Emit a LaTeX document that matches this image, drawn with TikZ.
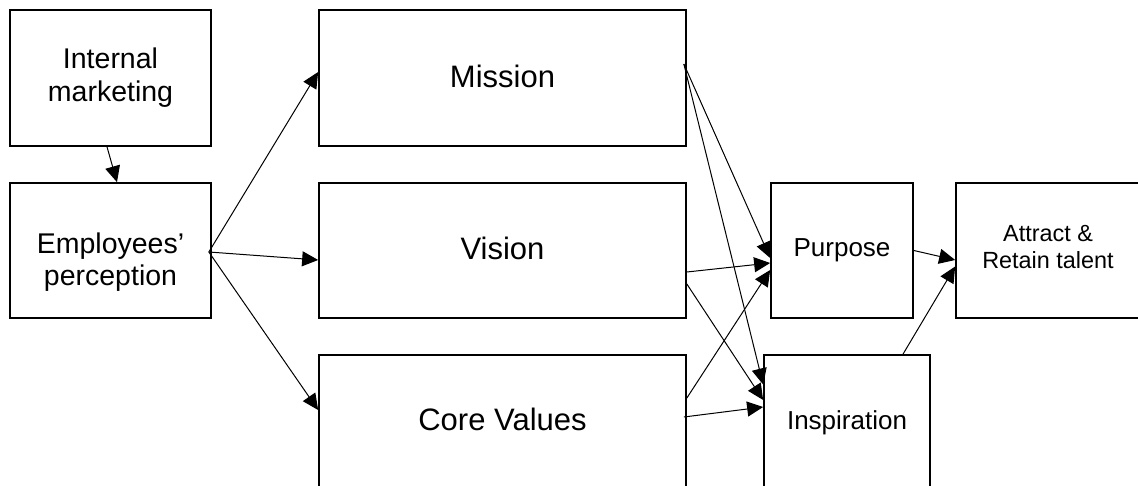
\documentclass[tikz,border=0pt]{standalone}
\usepackage{fontspec}
\setmainfont{Liberation Sans}
\usetikzlibrary{arrows.meta,calc}
\tikzset{
  box/.style={draw, line width=1.7pt, rectangle, inner sep=0pt, align=center},
  bigtxt/.style={font=\fontsize{31}{36}\selectfont},
  midtxt/.style={font=\fontsize{26}{30}\selectfont},
  conn/.style={line width=1pt, -{Triangle[length=16pt,width=15pt]}},
}
\begin{document}
\begin{tikzpicture}[x=1pt,y=-1pt]
\useasboundingbox (0,0) rectangle (1138,486);
% boxes
\node[box, minimum width=201pt, minimum height=136pt, font=\fontsize{28.5}{33}\selectfont] (im) at (110.5,78) {Internal\\marketing};
\node[box, minimum width=201pt, minimum height=135pt, font=\fontsize{28.5}{32.5}\selectfont] (emp) at (110.5,250.5) {\rule{0pt}{44pt}Employees’\\perception};
\node[box, bigtxt, minimum width=367pt, minimum height=136pt] (mis) at (502.5,78) {\rule[-4pt]{0pt}{4pt}Mission};
\node[box, bigtxt, minimum width=367pt, minimum height=135pt] (vis) at (502.5,250.5) {\rule[-4pt]{0pt}{4pt}Vision};
\node[box, bigtxt, minimum width=367pt, minimum height=135pt] (core) at (502.5,422.5) {\rule[-6pt]{0pt}{6pt}Core Values};
\node[box, midtxt, minimum width=142pt, minimum height=135pt] (pur) at (842,250.5) {Purpose};
\node[box, midtxt, minimum width=166pt, minimum height=135pt] (ins) at (847,422.5) {Inspiration};
\node[box, minimum width=184pt, minimum height=135pt, font=\fontsize{23.4}{27}\selectfont] (att) at (1048,250.5) {Attract \&\\Retain talent\rule[-7pt]{0pt}{7pt}};
% connectors
\draw[conn] ($(im.south)+(-3.5,0)$) -- ($(emp.north)+(6.5,0)$);
\draw[conn] ($(emp.east)+(-3,1.5)$) -- ($(mis.west)+(0,-6)$);
\draw[conn] ($(emp.east)+(-3,1.5)$) -- ($(vis.west)+(0,9.5)$);
\draw[conn] ($(emp.east)+(-3,1.5)$) -- ($(core.west)+(0,-12.5)$);
\draw[conn] ($(mis.east)+(-3,-14)$) -- ($(pur.west)+(0,7.5)$);
\draw[conn] ($(mis.east)+(-3,-14)$) -- ($(ins.west)+(0,-38)$);
\draw[conn] ($(vis.east)+(0,21.5)$) -- ($(pur.west)+(0,12.5)$);
\draw[conn] ($(vis.east)+(0,33.5)$) -- ($(ins.west)+(0,-22.5)$);
\draw[conn] ($(core.east)+(0,-24.5)$) -- ($(pur.west)+(0,19.5)$);
\draw[conn] ($(core.east)+(-3,-5.5)$) -- ($(ins.west)+(0,-15.5)$);
\draw[conn] (pur.east) -- ($(att.west)+(0,9.5)$);
\draw[conn] ($(ins.north)+(56,0)$) -- ($(att.west)+(0,16)$);
\end{tikzpicture}
\end{document}
